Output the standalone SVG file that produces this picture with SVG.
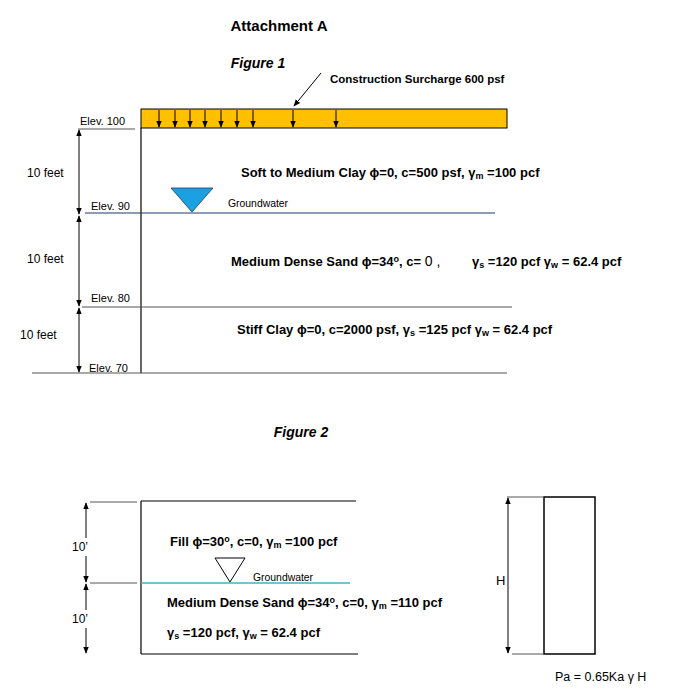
<svg xmlns="http://www.w3.org/2000/svg" width="700" height="698" viewBox="0 0 700 698">
<defs>
<marker id="ah" viewBox="0 0 10 10" refX="9" refY="5" markerWidth="7" markerHeight="7" orient="auto-start-reverse"><path d="M0,1 L10,5 L0,9 z" fill="#000"/></marker>
<style>
text{font-family:"Liberation Sans",Arial,sans-serif;fill:#000}
.b{font-weight:bold;font-size:13px}
.s{font-size:10.4px}
.e{font-size:11px}
.ft{font-size:12px}
.ln{stroke:#000;stroke-width:1.2;fill:none}
.gl{stroke:#555;stroke-width:1;fill:none}
.dim{stroke:#000;stroke-width:1;marker-start:url(#ah);marker-end:url(#ah)}
.sub{font-size:9px}
</style>
</defs>
<rect width="700" height="698" fill="#fff"/>
<text x="279" y="31" text-anchor="middle" style="font-weight:bold;font-size:15px">Attachment A</text>
<text x="258" y="68" text-anchor="middle" style="font-weight:bold;font-style:italic;font-size:14px">Figure 1</text>
<g id="surcharge">
<rect x="141" y="109" width="366" height="19" fill="#FFC000" stroke="#000" stroke-width="1"/>
<g stroke="#000" stroke-width="1" marker-end="url(#ah)">
<line x1="159" y1="110" x2="159" y2="127"/><line x1="175" y1="110" x2="175" y2="127"/><line x1="190" y1="110" x2="190" y2="127"/><line x1="205" y1="110" x2="205" y2="127"/><line x1="221" y1="110" x2="221" y2="127"/><line x1="237" y1="110" x2="237" y2="127"/><line x1="253" y1="110" x2="253" y2="127"/><line x1="293" y1="110" x2="293" y2="127"/><line x1="336" y1="110" x2="336" y2="127"/>
</g>
<line x1="321" y1="73" x2="294" y2="106" stroke="#000" stroke-width="1" marker-end="url(#ah)"/>
<text x="330" y="83" style="font-weight:bold;font-size:11.5px">Construction Surcharge 600 psf</text>
</g>
<g id="fig1-lines">
<line class="ln" x1="141" y1="128" x2="141" y2="373"/>
<line class="gl" x1="78" y1="129" x2="135" y2="129"/>
<line x1="85" y1="213" x2="495" y2="213" stroke="#1F3864" stroke-width="1.2"/>
<line class="gl" x1="82" y1="307" x2="512" y2="307"/>
<line class="gl" x1="32" y1="373" x2="507" y2="373"/>
<polygon points="171,188 213,188 192,212" fill="#1BA1E2" stroke="#1F3864" stroke-width="0.8"/>
</g>
<g id="connectors">
<line class="dim" x1="79" y1="130" x2="79" y2="214"/>
<line class="dim" x1="79" y1="216" x2="79" y2="306"/>
<line class="dim" x1="79" y1="308" x2="79" y2="372"/>
<line class="dim" x1="86" y1="503" x2="86" y2="582"/>
<line class="dim" x1="86" y1="584" x2="86" y2="653"/>
<line class="dim" x1="508" y1="498" x2="508" y2="653"/>
</g>
<g id="fig1-text">
<text class="e" x="80" y="125">Elev. 100</text>
<text class="e" x="91" y="210">Elev. 90</text>
<text class="e" x="91" y="302">Elev. 80</text>
<text class="e" x="89" y="372">Elev. 70</text>
<text class="ft" x="27" y="177">10 feet</text>
<text class="ft" x="27" y="263">10 feet</text>
<text class="ft" x="20" y="339">10 feet</text>
<text class="s" x="228" y="207">Groundwater</text>
<text class="b" x="241" y="177">Soft to Medium Clay ϕ=0, c=500 psf, γ<tspan class="sub" dy="2">m</tspan><tspan dy="-2"> =100 pcf</tspan></text>
<text class="b" x="231" y="266">Medium Dense Sand ϕ=34<tspan class="sub" dy="-4">o</tspan><tspan dy="4">, c= </tspan><tspan style="font-weight:normal;font-size:14px">0 ,</tspan></text>
<text class="b" x="472" y="266">γ<tspan class="sub" dy="2">s</tspan><tspan dy="-2"> =120 pcf  γ</tspan><tspan class="sub" dy="2">w</tspan><tspan dy="-2"> = 62.4 pcf</tspan></text>
<text class="b" x="237" y="334">Stiff Clay  ϕ=0, c=2000 psf,  γ<tspan class="sub" dy="2">s</tspan><tspan dy="-2"> =125 pcf  γ</tspan><tspan class="sub" dy="2">w</tspan><tspan dy="-2"> = 62.4 pcf</tspan></text>
</g>
<text x="301" y="437" text-anchor="middle" style="font-weight:bold;font-style:italic;font-size:14px">Figure 2</text>
<g id="fig2">
<line class="ln" x1="141" y1="501" x2="356" y2="501"/>
<line class="ln" x1="141" y1="501" x2="141" y2="654"/>
<line class="ln" x1="141" y1="654" x2="358" y2="654"/>
<line x1="141" y1="583" x2="350" y2="583" stroke="#4BACC6" stroke-width="1.5"/>
<line class="gl" x1="90" y1="502" x2="137" y2="502"/>
<line class="gl" x1="90" y1="583" x2="137" y2="583"/>
<polygon points="215,558 245,558 230,582" fill="#fff" stroke="#000" stroke-width="1"/>
<text class="s" x="253" y="581">Groundwater</text>
<rect x="70" y="538" width="22" height="18" fill="#fff"/>
<rect x="70" y="610" width="22" height="18" fill="#fff"/>
<text style="font-size:12px" x="72" y="551">10’</text>
<text style="font-size:12px" x="72" y="623">10’</text>
<text class="b" x="170" y="546">Fill ϕ=30<tspan class="sub" dy="-4">o</tspan><tspan dy="4">, c=0, γ</tspan><tspan class="sub" dy="2">m</tspan><tspan dy="-2"> =100 pcf</tspan></text>
<text class="b" x="167" y="607">Medium Dense Sand ϕ=34<tspan class="sub" dy="-4">o</tspan><tspan dy="4">, c=0, γ</tspan><tspan class="sub" dy="2">m</tspan><tspan dy="-2"> =110 pcf</tspan></text>
<text class="b" x="167" y="637">γ<tspan class="sub" dy="2">s</tspan><tspan dy="-2"> =120 pcf, γ</tspan><tspan class="sub" dy="2">w</tspan><tspan dy="-2"> = 62.4 pcf</tspan></text>
</g>
<g id="wall">
<rect x="544" y="497" width="51" height="157" fill="none" stroke="#000" stroke-width="1.5"/>
<line class="gl" x1="507" y1="497" x2="544" y2="497"/>
<line class="gl" x1="512" y1="654" x2="544" y2="654"/>
<text x="496" y="585" style="font-size:13px">H</text>
<text x="555" y="681" style="font-size:12.5px">Pa = 0.65Ka γ H</text>
</g>
</svg>
